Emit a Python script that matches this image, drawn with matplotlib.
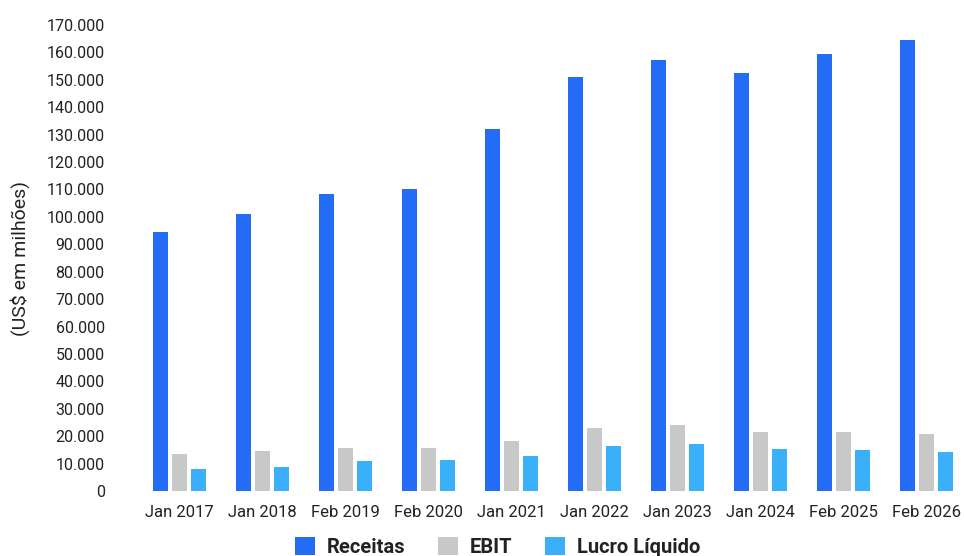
import matplotlib.pyplot as plt
import numpy as np
from matplotlib.ticker import FuncFormatter

plt.rcParams['font.family'] = ['Roboto', 'DejaVu Sans']

periodos = ['Jan 2017', 'Jan 2018', 'Feb 2019', 'Feb 2020', 'Jan 2021',
            'Jan 2022', 'Jan 2023', 'Jan 2024', 'Feb 2025', 'Feb 2026']
receitas = [94595, 100904, 108203, 110225, 132110, 151157, 157403, 152669, 159514, 164680]
ebit = [13427, 14681, 15530, 15843, 18278, 23040, 24039, 21689, 21526, 20800]
lucro = [7957, 8630, 11121, 11242, 12866, 16433, 17105, 15143, 14806, 14200]

cores = ['#246bf5', '#c8c8c8', '#3aaffa']
nomes = ['Receitas', 'EBIT', 'Lucro Líquido']

fig = plt.figure(figsize=(9.64, 5.56), dpi=100)
ax = fig.add_axes([138 / 964, 65 / 556, 830 / 964, 466 / 556])

x = np.arange(len(periodos))
w = 0.19
passo = 0.23
for i, (serie, cor, nome) in enumerate(zip([receitas, ebit, lucro], cores, nomes)):
    ax.bar(x + (i - 1) * passo, serie, width=w, color=cor, label=nome)

ax.set_xlim(-0.5, 9.5)
ax.set_ylim(0, 170000)
ax.set_yticks(np.arange(0, 170001, 10000))
ax.yaxis.set_major_formatter(FuncFormatter(lambda v, p: f'{int(v):,}'.replace(',', '.')))
ax.set_xticks(x)
ax.set_xticklabels(periodos)
ax.tick_params(axis='both', length=0, colors='#222222')
ax.tick_params(axis='y', pad=24, labelsize=11.5)
ax.tick_params(axis='x', pad=10, labelsize=12)
for s in ax.spines.values():
    s.set_visible(False)

ax.set_ylabel('(US$ em milhões)', fontsize=14, color='#222222', labelpad=12)

leg = fig.legend(loc='center', bbox_to_anchor=(0.516, 0.017), ncol=3, frameon=False,
                 prop={'weight': 'bold', 'size': 14.5}, handlelength=1.0, handleheight=1.0,
                 columnspacing=1.6, handletextpad=0.6)
for t in leg.get_texts():
    t.set_color('#222222')

fig.savefig('out.png', dpi=100)
